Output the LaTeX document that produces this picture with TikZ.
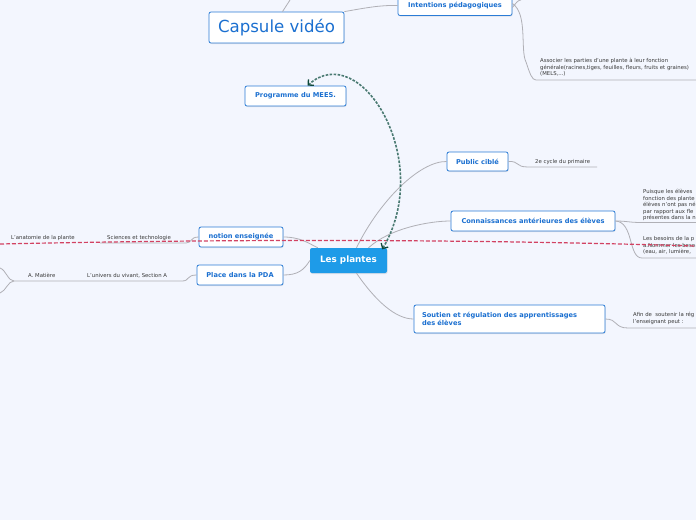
\documentclass[tikz,border=0pt]{standalone}
\usepackage{fontspec}
\setmainfont{DejaVu Sans}
\usetikzlibrary{arrows.meta,shadows}
\definecolor{bg}{RGB}{243,246,254}
\definecolor{topicblue}{RGB}{43,124,214}
\definecolor{topictext}{RGB}{26,111,208}
\definecolor{rootfill}{RGB}{30,155,232}
\definecolor{conncol}{RGB}{176,176,182}
\definecolor{leaftext}{RGB}{55,55,55}
\definecolor{reldash}{RGB}{74,122,114}
\definecolor{relhead}{RGB}{14,72,58}
\definecolor{redrel}{RGB}{210,66,98}
\begin{document}
\begin{tikzpicture}[x=1pt,y=-1pt,
  topic/.style={draw=topicblue, fill=white, rounded corners=2pt, line width=0.8pt,
    text=topictext, font=\fontsize{6.65}{8.2}\selectfont\bfseries, inner sep=0pt,
    drop shadow={opacity=0.18,shadow xshift=0.6pt,shadow yshift=-1pt}},
  roottopic/.style={fill=rootfill, rounded corners=2pt, text=white,
    font=\fontsize{8.8}{10}\selectfont\bfseries, inner sep=0pt,
    drop shadow={opacity=0.18,shadow xshift=0.6pt,shadow yshift=-1pt}},
  leaf/.style={text=leaftext, font=\fontsize{5.35}{6.5}\selectfont, inner sep=0pt, align=left},
  conn/.style={draw=conncol, line width=0.8pt},
  relgreen/.style={draw=reldash, line width=1.6pt, dash pattern=on 2.6pt off 1.4pt,
    {Straight Barb[length=4pt,width=8pt,color=relhead,line width=1.3pt]}-{Straight Barb[length=4pt,width=8pt,color=relhead,line width=1.3pt]}},
  relred/.style={draw=redrel, line width=1.2pt, dash pattern=on 4pt off 2pt}
]
\useasboundingbox (0,0) rectangle (696,520);
\clip (0,0) rectangle (696,520);
\fill[bg] (0,0) rectangle (696,520);

% off-screen endpoints
\coordinate (topout) at (290,0);
\coordinate (intout) at (521,0);
\coordinate (leftup) at (0,268);
\coordinate (leftdn) at (0,293);
\coordinate (redL) at (0,244);
\coordinate (redR) at (696,246);

% topic nodes
\node[topic, minimum width=135pt, minimum height=31pt, font=\fontsize{16.6}{18}\selectfont] (cap) at (276.5,27.5) {Capsule vidéo};
\node[topic, minimum width=114pt, minimum height=20pt] (int) at (455,5.5) {Intentions pédagogiques};
\node[topic, minimum width=101pt, minimum height=20pt] (prog) at (295.5,96) {Programme du MEES.};
\node[topic, minimum width=61pt, minimum height=19pt] (pub) at (477.5,161.5) {Public ciblé};
\node[topic, minimum width=164pt, minimum height=20pt] (con) at (533,221) {Connaissances antérieures des élèves};
\node[topic, minimum width=84pt, minimum height=20pt] (not) at (241,237) {notion enseignée};
\node[roottopic, minimum width=77pt, minimum height=25pt] (root) at (348.5,260.5) {Les plantes};
\node[topic, minimum width=86pt, minimum height=20pt] (pda) at (240,275) {Place dans la PDA};
\node[topic, minimum width=191pt, minimum height=28pt, align=left, text width=175pt] (sou) at (509.5,319) {Soutien et régulation des apprentissages\\des élèves};

% leaf texts
\node[leaf, anchor=north west] (assoc) at (540,58.5) {Associer les parties d'une plante à leur fonction\\générale(racines,tiges, feuilles, fleurs, fruits et graines)\\(MELS,...)};
\node[leaf, anchor=west] (cyc) at (535,162) {2e cycle du primaire};
\node[leaf, anchor=north west] (puis) at (643,189.5) {Puisque les élèves\\fonction des plante\\élèves n'ont pas né\\par rapport aux fle\\présentes dans la n};
\node[leaf, anchor=north west] (bes) at (643,236.5) {Les besoins de la p\\a.Nommer les beso\\(eau, air, lumière, };
\node[leaf, anchor=north west] (afin) at (633,312.5) {Afin de\ \ soutenir la rég\\l'enseignant peut :};
\node[leaf, anchor=west] (sci) at (107,238) {Sciences et technologie};
\node[leaf, anchor=west] (ana) at (11,238) {L'anatomie de la plante};
\node[leaf, anchor=west] (univ) at (87,275.5) {L'univers du vivant, Section A};
\node[leaf, anchor=west] (mat) at (28,275.5) {A. Matière};

% underline coordinates
\coordinate (assocL) at (536,80);
\coordinate (cycL) at (528,167);
\coordinate (puisL) at (642,222.5);
\coordinate (besL) at (642,258);
\coordinate (afinL) at (628,328);
\coordinate (sciR) at (186,243);
\coordinate (univR) at (182,281);
\coordinate (matL) at (14,281);

% connectors
\draw[conn] ([xshift=6pt]cap.north) -- (topout);
\draw[conn] (cap.north east) .. controls (365,8) and (380,5) .. (int.west);
\draw[conn] ([yshift=-2pt]int.east) .. controls (516,3) and (518,0) .. (intout);
\draw[conn] ([yshift=2pt]int.east) .. controls (528,14) and (520,50) .. (526,62) .. controls (530,74) and (532,80) .. (assocL) -- (696,80);
\draw[conn] (pub.east) .. controls (520,161) and (515,167) .. (cycL) -- (597,167);
\draw[conn] (con.east) .. controls (628,221) and (628,222.5) .. (puisL) -- (696,222.5);
\draw[conn] (con.east) .. controls (634,222) and (628,258) .. (besL) -- (696,258);
\draw[conn] (sou.east) .. controls (618,319) and (614,328) .. (afinL) -- (696,328);
\draw[conn] (not.west) .. controls (190,237) and (192,243) .. (sciR) -- (100,243);
\draw[conn] (pda.west) .. controls (186,275) and (190,281) .. (univR) -- (matL);
\draw[conn] (matL) .. controls (8,281) and (6,270) .. (leftup);
\draw[conn] (matL) .. controls (8,281) and (6,291) .. (leftdn);
\draw[conn] ([xshift=8pt]root.north) .. controls (380,200) and (420,161) .. (pub.west);
\draw[conn] ([xshift=20pt]root.north) .. controls (390,228) and (430,221) .. (con.west);
\draw[conn] (not.east) .. controls (300,237) and (308,243) .. ([xshift=8pt]root.north west);
\draw[conn] (pda.east) .. controls (298,275) and (304,270) .. (root.west);
\draw[conn] ([xshift=8pt]root.south) .. controls (375,300) and (395,319) .. (sou.west);

% relationships
\draw[relred] (redL) .. controls (230,239) and (460,239) .. (redR);
\draw[relgreen] ([xshift=-5pt,yshift=-1.5pt]root.north east) .. controls (435,160) and (360,38) .. ([xshift=12pt]prog.north);
\end{tikzpicture}
\end{document}
